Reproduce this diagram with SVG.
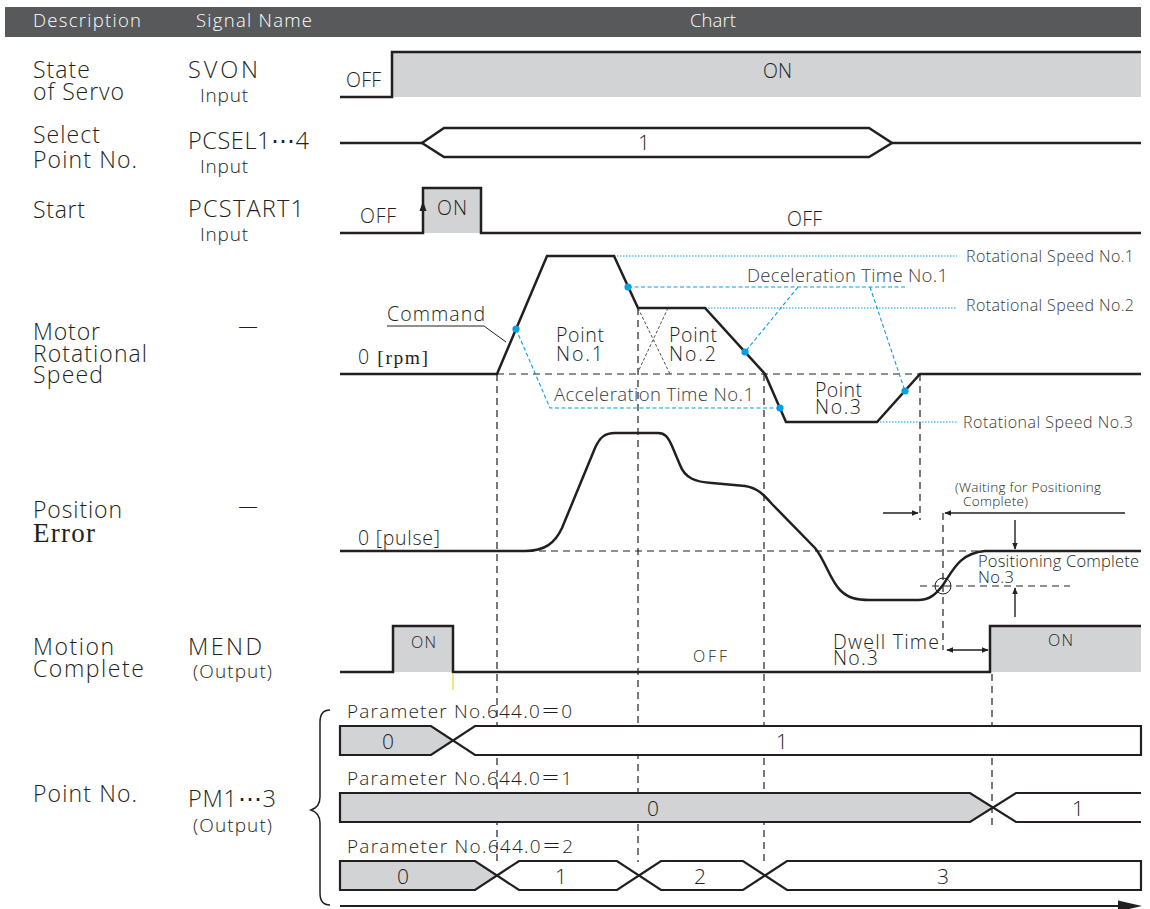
<svg xmlns="http://www.w3.org/2000/svg" width="1150" height="909" viewBox="0 0 1150 909">
<style>
text{font-family:"Open Sans","Liberation Sans",sans-serif;fill:#231f20;font-weight:300}
.hd{fill:#fff;font-size:18.5px}
.lb{font-size:23px}
.sg{font-size:23.5px}
.io{font-size:19px}
.st{font-size:19.5px}
.an{font-size:18.5px;fill:#3a3a3a}
.rs{font-size:16px;fill:#3a3a3a}
.pm{font-size:19px}
.bx{font-size:21px;text-anchor:middle}
.serif{font-family:"Liberation Serif",serif;font-weight:400}
.sig{fill:none;stroke:#231f20;stroke-width:2.5;stroke-linejoin:miter}
.fillg{fill:#d1d3d4;stroke:none}
.box{stroke:#231f20;stroke-width:2.2;stroke-linejoin:miter}
.dsh{fill:none;stroke:#231f20;stroke-width:1.2;stroke-dasharray:7 5}
.thd{fill:none;stroke:#231f20;stroke-width:0.8;stroke-dasharray:3 2}
.bld{fill:none;stroke:#00a0e9;stroke-width:1.1;stroke-dasharray:4 2.5}
.blt{fill:none;stroke:#00a0e9;stroke-width:1.1;stroke-dasharray:1.5 1.5}
.dot{fill:#00a0e9}
.arr{fill:none;stroke:#231f20;stroke-width:1.4}
.cjk{font-family:"Noto Sans CJK JP",sans-serif}
.ell{font-family:"DejaVu Sans",sans-serif}
</style>
<defs>
<marker id="ah" viewBox="0 0 10 10" refX="9" refY="5" markerWidth="7" markerHeight="7" orient="auto-start-reverse" markerUnits="userSpaceOnUse">
<path d="M0,1 L10,5 L0,9 Z" fill="#231f20"/>
</marker>
</defs>

<g id="header">
<rect x="5" y="7" width="1136" height="30" fill="#58595b"/>
<text class="hd" x="33" y="27" textLength="108">Description</text>
<text class="hd" x="196" y="27" textLength="116">Signal Name</text>
<text class="hd" x="690" y="27" textLength="46">Chart</text>
</g>

<g id="connectors">
<path class="dsh" d="M497,374 V862 M638,308 V862 M764,374 V862 M920,374 V520 M943,513 V650 M992,674 V830"/>
<path class="dsh" d="M497,374 H920 M527,551 H980 M920,586 H1070"/>
<path class="thd" d="M638,308 L670,374 M668,308 L638,372"/>
<path class="bld" d="M516,329 L550,408 H780 M628,287 H907 M798,287 L745,352 M870,287 L905,391"/>
<path class="blt" d="M614,256 H957 M705,308 H957 M877,422 H957"/>
<path class="arr" d="M883,513 H918" marker-end="url(#ah)"/>
<path class="arr" d="M1125,513 H945" marker-end="url(#ah)"/>
<path class="arr" d="M1015,520 V549" marker-end="url(#ah)"/>
<path class="arr" d="M1015,617 V588" marker-end="url(#ah)"/>
<path class="arr" d="M947,650 H988" marker-start="url(#ah)" marker-end="url(#ah)"/>
<circle cx="943" cy="586" r="8" fill="none" stroke="#231f20" stroke-width="1"/>
<path d="M387,326 H484 L506,342" fill="none" stroke="#231f20" stroke-width="1"/>
<line x1="453" y1="674" x2="453" y2="690" stroke="#e6cf00" stroke-width="1"/>
</g>

<g id="row-servo">
<text class="lb" x="33" y="78" textLength="57">State</text>
<text class="lb" x="33" y="100" textLength="91">of Servo</text>
<text class="sg" x="188" y="78" textLength="70">SVON</text>
<text class="io" x="200" y="102" textLength="48">Input</text>
<rect class="fillg" x="392" y="52" width="749" height="45"/>
<path class="sig" d="M340,97 H392 V52 H1141"/>
<text class="st" x="346" y="87" textLength="35">OFF</text>
<text class="st" x="763" y="78" textLength="29">ON</text>
</g>

<g id="row-select">
<text class="lb" x="33" y="143" textLength="67">Select</text>
<text class="lb" x="33" y="168" textLength="104">Point No.</text>
<text class="sg" x="188" y="149" textLength="121">PCSEL1<tspan class="ell">⋯</tspan>4</text>
<text class="io" x="200" y="173" textLength="48">Input</text>
<path class="sig" d="M340,143 H422 M892,143 H1141"/>
<path class="sig" d="M422,143 L444,128 H869 L892,143 L869,157 H444 Z" fill="#fff"/>
<text class="bx" x="644" y="150">1</text>
</g>

<g id="row-start">
<text class="lb" x="33" y="218" textLength="52">Start</text>
<text class="sg" x="188" y="217" textLength="116">PCSTART1</text>
<text class="io" x="200" y="241" textLength="48">Input</text>
<rect class="fillg" x="423" y="188" width="58" height="45"/>
<path class="sig" d="M340,233 H423 V188 H481 V233 H1141"/>
<path d="M423,201 L419.5,211 H426.5 Z" fill="#231f20"/>
<text class="st" x="360" y="223" textLength="36">OFF</text>
<text class="st" x="437" y="215" textLength="30">ON</text>
<text class="st" x="787" y="226" textLength="35">OFF</text>
</g>

<g id="row-speed">
<text class="lb" x="33" y="340" textLength="67">Motor</text>
<text class="lb" x="33" y="362" textLength="114">Rotational</text>
<text class="lb" x="33" y="383" textLength="70">Speed</text>
<text class="st" x="248" y="333" text-anchor="middle">—</text>
<path class="sig" stroke-width="3" d="M340,374 H497 L547,256 H614 L638,308 H705 L765,374 L786,422 H877 L920,374 H1141"/>
<circle class="dot" cx="516" cy="329" r="3.6"/>
<circle class="dot" cx="628" cy="287" r="3.6"/>
<circle class="dot" cx="745" cy="352" r="3.6"/>
<circle class="dot" cx="780" cy="408" r="3.6"/>
<circle class="dot" cx="905" cy="391" r="3.6"/>
<text class="st" x="387" y="321" textLength="98">Command</text>
<text class="st" x="358" y="364" textLength="70">0 <tspan class="serif">[rpm]</tspan></text>
<text class="st" x="556" y="342" textLength="48">Point</text>
<text class="st" x="556" y="361" textLength="47">No.1</text>
<text class="st" x="669" y="342" textLength="48">Point</text>
<text class="st" x="669" y="361" textLength="47">No.2</text>
<text class="st" x="815" y="397" textLength="47">Point</text>
<text class="st" x="815" y="414" textLength="46">No.3</text>
<text class="an" x="554" y="401" textLength="200">Acceleration Time No.1</text>
<text class="an" x="747" y="282" textLength="201">Deceleration Time No.1</text>
<text class="rs" x="966" y="262" textLength="168">Rotational Speed No.1</text>
<text class="rs" x="966" y="311" textLength="168">Rotational Speed No.2</text>
<text class="rs" x="963" y="428" textLength="170">Rotational Speed No.3</text>
</g>

<g id="row-position">
<text class="lb" x="33" y="518" textLength="89">Position</text>
<text class="serif" x="33" y="542" style="font-size:27px" textLength="62">Error</text>
<text class="st" x="248" y="513" text-anchor="middle">—</text>
<path class="sig" stroke-width="1.8" d="M340,551 H525 C545,551 555,543 562,528 L595,448 C600,437 605,433 615,433 H658 C665,433 668,437 672,446 L680,465 C685,478 695,482 712,483 L745,486 C758,488 764,495 772,504 L815,548 C825,560 830,580 840,590 C848,598 856,600 870,600 H918 C930,600 936,594 943,585 C953,570 960,553 985,551 H1141"/>
<text class="st" x="358" y="545" textLength="82">0 [pulse]</text>
<text x="955" y="492" font-size="13.5" fill="#3a3a3a" textLength="146">(Waiting for Positioning</text>
<text x="963" y="506" font-size="13.5" fill="#3a3a3a" textLength="65">Complete)</text>
<text x="978" y="567" font-size="16.5" textLength="161">Positioning Complete</text>
<text x="978" y="583" font-size="16.5" textLength="36">No.3</text>
</g>

<g id="row-mend">
<text class="lb" x="33" y="655" textLength="81">Motion</text>
<text class="lb" x="33" y="677" textLength="111">Complete</text>
<text class="sg" x="188" y="655" textLength="74">MEND</text>
<text class="io" x="193" y="678" textLength="79">(Output)</text>
<rect class="fillg" x="393" y="626" width="60" height="46"/>
<rect class="fillg" x="990" y="626" width="151" height="46"/>
<path class="sig" d="M340,672 H393 V626 H453 V672 H990 V626 H1141"/>
<text x="411" y="648" font-size="16" textLength="25">ON</text>
<text x="693" y="662" font-size="16" textLength="34">OFF</text>
<text x="1048" y="646" font-size="16" textLength="25">ON</text>
<text class="st" x="833" y="649" textLength="106">Dwell Time</text>
<text class="st" x="833" y="665" textLength="45">No.3</text>
</g>

<g id="row-point">
<text class="lb" x="33" y="802" textLength="104">Point No.</text>
<text class="sg" x="188" y="807" textLength="88">PM1<tspan class="ell">⋯</tspan>3</text>
<text class="io" x="193" y="832" textLength="79">(Output)</text>
<path d="M330,710 C323,710 320,714 320,722 V797 C320,804 317,808 311,810 C317,812 320,816 320,823 V893 C320,901 323,905 330,905" fill="none" stroke="#231f20" stroke-width="1.5"/>
<text class="pm" x="347" y="718" textLength="225">Parameter No.644.0<tspan class="cjk">＝</tspan>0</text>
<path class="box" fill="#d1d3d4" d="M340,726 H431 L453,740.5 L431,755 H340 Z"/>
<path class="box" fill="#fff" d="M1141,726 H475 L453,740.5 L475,755 H1141 Z"/>
<text class="bx" x="388" y="749">0</text>
<text class="bx" x="782" y="749">1</text>
<text class="pm" x="347" y="785" textLength="225">Parameter No.644.0<tspan class="cjk">＝</tspan>1</text>
<path class="box" fill="#d1d3d4" d="M340,793 H970 L993,807.5 L970,822 H340 Z"/>
<path class="box" fill="#fff" d="M1141,793 H1016 L993,807.5 L1016,822 H1141"/>
<text class="bx" x="653" y="816">0</text>
<text class="bx" x="1078" y="816">1</text>
<text class="pm" x="347" y="853" textLength="226">Parameter No.644.0<tspan class="cjk">＝</tspan>2</text>
<path class="box" fill="#d1d3d4" d="M340,861 H475 L497,875.5 L475,890 H340 Z"/>
<path class="box" fill="#fff" d="M497,875.5 L519,861 H617 L639,875.5 L617,890 H519 Z"/>
<path class="box" fill="#fff" d="M639,875.5 L661,861 H743 L765,875.5 L743,890 H661 Z"/>
<path class="box" fill="#fff" d="M765,875.5 L787,861 H1141 V890 H787 Z"/>
<text class="bx" x="403" y="884">0</text>
<text class="bx" x="561" y="884">1</text>
<text class="bx" x="700" y="884">2</text>
<text class="bx" x="943" y="884">3</text>
<path d="M340,906 H1122" stroke="#231f20" stroke-width="2.2"/>
<path d="M1118,900.5 L1142,906 L1118,911.5 Z" fill="#231f20"/>
</g>
</svg>
